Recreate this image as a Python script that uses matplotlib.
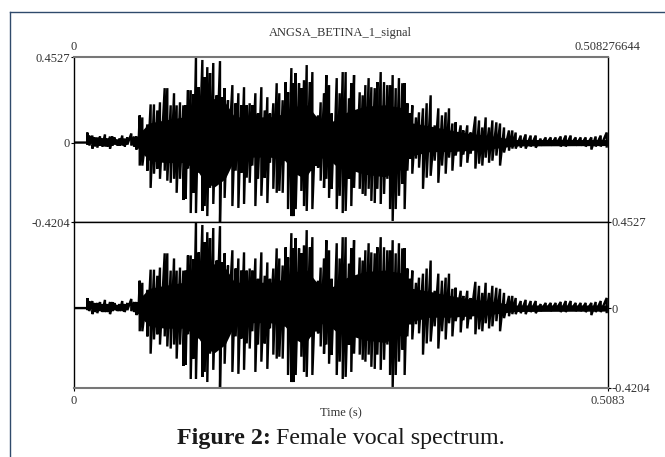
import matplotlib
matplotlib.use("Agg")
import matplotlib.pyplot as plt
from matplotlib.lines import Line2D
import numpy as np

W, H = 665, 457

# spikes of the waveform: time in ms, upper and lower peak in thousandths
spike_ms = [0, 12.6, 12.7, 14.6, 17.5, 19.7, 22.2, 24.8, 27, 29.5, 31.8, 34.3, 36.5, 38.7, 41.3, 43.5, 46, 48.3,
            50.8, 54.6, 57.2, 59.4, 61.3, 62.6, 65.1, 69.9, 73, 76.2, 79.4, 81.9, 86.4, 88.9, 92.1, 95.3, 97.8,
            101, 104.2, 106.4, 108.6, 111.2, 113.7, 116.2, 118.8, 122.3, 124.5, 127, 129.6, 132.7, 135.9, 139.1,
            141.3, 143.5, 146.7, 150.9, 154, 156.6, 159.4, 162, 164.5, 167.4, 169.9, 172.8, 175.3, 178.5, 181.7,
            184.2, 186.7, 189.9, 193.1, 195.6, 198.8, 201.7, 203.9, 207.1, 209, 211.2, 214.4, 216.6, 219.1, 221.7,
            224.8, 227.1, 230.2, 232.5, 235, 238.2, 240.4, 243, 245.5, 247.7, 250.3, 253.1, 256, 258.8, 262, 264.2,
            266.8, 269.3, 272.2, 275, 277.6, 280.7, 283.3, 286.5, 289, 292.2, 295.4, 298.5, 301.1, 303.6, 306.5,
            309.6, 312.8, 315, 317.6, 320.1, 322.3, 325.8, 328.7, 332.5, 336, 339.8, 343.6, 347.1, 350.6, 354.1,
            357.3, 360.5, 363.6, 368.4, 370.9, 374.7, 377.9, 382.4, 385.9, 389, 392.2, 395.4, 398.6, 402.4, 405.9,
            409.7, 414.4, 417.6, 420.8, 425.6, 430.3, 435.1, 439.9, 444.6, 449.4, 454.2, 458.9, 463.7, 468.5,
            473.2, 478, 482.7, 487.5, 492.9, 497, 501.8, 507.5]
spike_hi = [0, 0, 53, 37, 37, 27, 27, 32, 21, 43, 21, 32, 32, 27, 16, 21, 37, 21,
            27, 48, 32, 32, 16, 144, 133, 96, 202, 202, 170, 213, 288, 288, 197, 261, 197,
            213, 197, 197, 277, 277, 256, 453, 293, 437, 346, 399, 368, 421, 250, 431,
            240, 288, 224, 304, 208, 261, 197, 293, 197, 208, 197, 261, 154, 293, 170,
            240, 154, 208, 314, 261, 224, 320, 266, 394, 314, 368, 314, 288, 330, 410,
            320, 373, 128, 144, 213, 261, 357, 304, 154, 107, 341, 261, 373, 373, 234, 314,
            357, 144, 266, 250, 304, 341, 293, 288, 320, 373, 320, 304, 304, 357, 288,
            341, 314, 314, 208, 154, 197, 133, 160, 181, 208, 250, 91, 181, 144, 160,
            181, 101, 107, 91, 64, 91, 53, 138, 117, 80, 133, 80, 117, 107, 101,
            80, 64, 64, 53, 37, 43, 37, 37, 21, 27, 27, 27, 32, 37, 37,
            27, 27, 27, 27, 32, 37, 53]
spike_lo = [0, 0, -11, -16, -32, -21, -27, -16, -21, -21, -21, -32, -16, -11, -16, -16, -16, -21,
            -11, -16, -21, -37, -27, -122, -122, -149, -240, -165, -138, -192, -149, -202, -213, -192, -266,
            -192, -304, -298, -138, -373, -266, -373, -160, -362, -336, -389, -240, -325, -107, -420,
            -122, -293, -122, -336, -149, -346, -160, -325, -186, -213, -122, -336, -192, -282, -186,
            -320, -107, -245, -266, -256, -266, -85, -352, -389, -389, -352, -149, -256, -336, -362,
            -149, -352, -122, -133, -202, -240, -192, -293, -245, -107, -352, -282, -373, -362, -192, -336,
            -240, -149, -245, -272, -282, -245, -309, -320, -245, -325, -272, -192, -352, -415, -352,
            -282, -218, -352, -149, -85, -165, -85, -133, -245, -186, -176, -96, -213, -122, -165,
            -80, -149, -69, -128, -64, -107, -59, -138, -112, -122, -80, -107, -96, -69, -122,
            -53, -43, -32, -32, -27, -32, -21, -27, -16, -11, -16, -11, -21, -21,
            -11, -16, -16, -21, -37, -21, -21, -27]

# solid black body of the waveform
core_ms = [60, 65, 72, 87, 105, 117, 125, 134, 144, 153, 168, 187, 201, 212, 220, 230, 239, 249, 253, 263,
           277, 296, 311, 320, 339, 358, 377, 396, 411, 420, 508]
core_hi = [24, 66, 104, 120, 136, 168, 213, 234, 213, 136, 136, 136, 154, 192, 213, 144, 96, 120, 144, 168,
           192, 200, 186, 106, 88, 66, 48, 37, 24, 16, 16]
core_lo = [-24, -56, -96, -106, -106, -144, -213, -234, -192, -88, -77, -77, -96, -168, -192, -106, -72, -120,
           -96, -144, -168, -181, -144, -72, -48, -48, -42, -34, -24, -18, -16]

y_ticks = [-0.4204, 0, 0.4527]
y_labels = ["-0.4204", "0", "0.4527"]
x_end = 0.508276644

plt.rcParams["font.family"] = ["Liberation Serif", "DejaVu Serif"]
TEXT = "#333333"


def px_rect(left, top, right, bottom):
    return [left / W, 1 - bottom / H, (right - left) / W, (bottom - top) / H]


def draw_signal(ax):
    t = np.array(spike_ms) / 1000
    hi = np.array(spike_hi) / 1000
    lo = np.array(spike_lo) / 1000
    zig_t = np.column_stack([t, t]).ravel()
    zig_y = np.column_stack([hi, lo]).ravel()
    ax.plot(zig_t, zig_y, color="black", lw=1.7, solid_joinstyle="bevel", solid_capstyle="butt")
    ax.fill_between(np.array(core_ms) / 1000, np.array(core_lo) / 1000, np.array(core_hi) / 1000,
                    color="black", lw=0)
    ax.set_xlim(0, x_end)
    ax.set_ylim(y_ticks[0], y_ticks[-1])


fig = plt.figure(figsize=(W / 100, H / 100), dpi=100)

ax1 = fig.add_axes(px_rect(74, 57, 607.5, 222))
ax2 = fig.add_axes(px_rect(74, 222, 607.5, 388))
for ax in (ax1, ax2):
    draw_signal(ax)
    for s in ax.spines.values():
        s.set_linewidth(1.0)
    ax.tick_params(length=2, width=0.8, labelsize=9, pad=1, labelcolor=TEXT)

ax1.spines["top"].set_color("#777777")
ax1.spines["top"].set_linewidth(1.5)
ax2.spines["bottom"].set_color("#777777")
ax2.spines["bottom"].set_linewidth(1.5)

ax1.set_yticks(y_ticks, y_labels)
ax1.xaxis.tick_top()
ax1.set_xticks([0, x_end], ["0", "0.508276644"])
ax1.tick_params(axis="x", length=0, pad=3)

ax2.yaxis.tick_right()
ax2.set_yticks(y_ticks, y_labels)
ax2.set_xticks([0, x_end], ["0", "0.5083"])
ax2.tick_params(axis="x", length=2, pad=3)
ax2.set_xlabel("Time (s)", fontsize=9, color=TEXT, labelpad=0)

fig.text(340.5 / W, 1 - 33 / H, "ANGSA_BETINA_1_signal", fontsize=8.9, color=TEXT, ha="center", va="center")

# caption: bold part then regular part, on one baseline
cap_bold = fig.text(177 / W, 1 - 444 / H, "Figure 2:", fontsize=17.3, fontweight="bold", color="#1a1a1a",
                    ha="left", va="baseline")
fig.canvas.draw()
bold_end = cap_bold.get_window_extent().x1
fig.text((bold_end + 5) / W, 1 - 444 / H, "Female vocal spectrum.", fontsize=17.3, color="#1a1a1a",
         ha="left", va="baseline")

# page frame around the figure
frame = "#2f4a6b"
fig.add_artist(Line2D([9.5 / W, 9.5 / W], [0, 1 - 12 / H], color=frame, lw=1.0))
fig.add_artist(Line2D([9.5 / W, 1], [1 - 12 / H, 1 - 12 / H], color=frame, lw=1.0))

fig.savefig("out.png", dpi=100)
